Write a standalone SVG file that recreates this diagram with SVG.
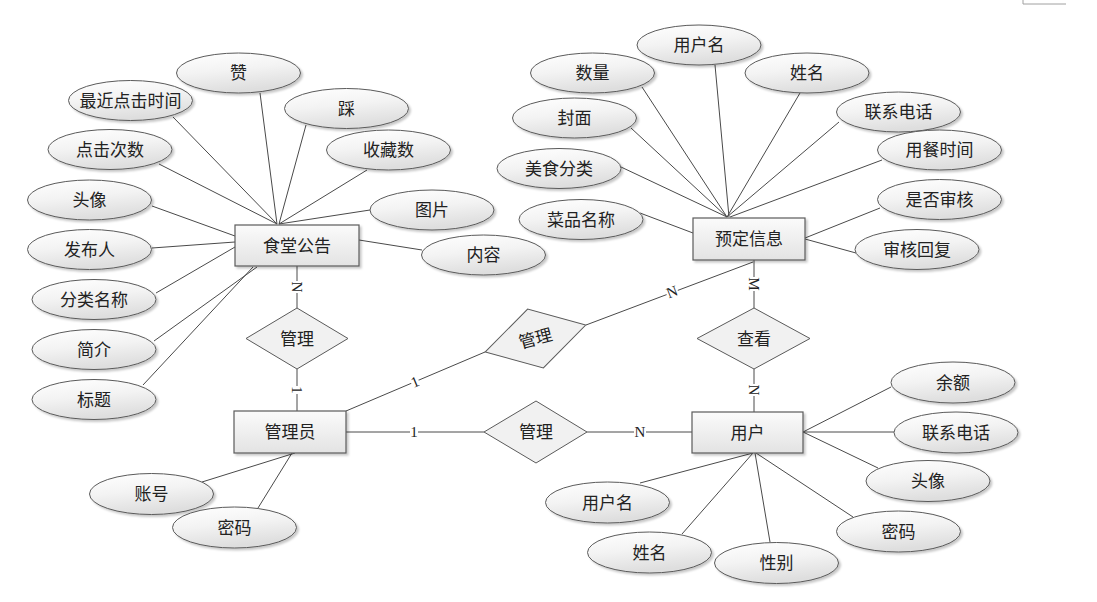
<svg xmlns="http://www.w3.org/2000/svg" width="1097" height="602" viewBox="0 0 1097 602">
<defs>
<linearGradient id="gE" x1="0" y1="0" x2="0.3" y2="1">
<stop offset="0" stop-color="#ffffff"/>
<stop offset="0.5" stop-color="#f3f3f3"/>
<stop offset="1" stop-color="#dedede"/>
</linearGradient>
<linearGradient id="gR" x1="0" y1="0" x2="0" y2="1">
<stop offset="0" stop-color="#fbfbfb"/>
<stop offset="1" stop-color="#e3e3e3"/>
</linearGradient>
<filter id="sh" x="-10%" y="-20%" width="130%" height="150%">
<feDropShadow dx="2" dy="2" stdDeviation="1.2" flood-color="#000" flood-opacity="0.22"/>
</filter>
<style>
.e{fill:url(#gE);stroke:#5a5a5a;stroke-width:1;filter:url(#sh)}
.r{fill:url(#gR);stroke:#5a5a5a;stroke-width:1.2;filter:url(#sh)}
.d{fill:#f1f1f1;stroke:#5a5a5a;stroke-width:1}
.t{font-family:"Noto Sans CJK SC","Noto Sans",sans-serif;font-size:17px;fill:#222;text-anchor:middle;dominant-baseline:central;transform:translateY(-1.5px)}
.l{font-family:"Liberation Serif",serif;font-size:15px;fill:#222;text-anchor:middle;dominant-baseline:central}
.c line{stroke:#4a4a4a;stroke-width:1}
.bg{fill:#fff}
</style>
</defs>
<rect width="1097" height="602" fill="#fff"/>
<path d="M1023,0 V4 H1066" fill="none" stroke="#a0a0a0" stroke-width="1"/>

<g id="connectors" class="c">
<line x1="173" y1="117" x2="277" y2="224"/>
<line x1="260" y1="93" x2="277" y2="224"/>
<line x1="306" y1="125" x2="279" y2="224"/>
<line x1="367" y1="170" x2="279" y2="224"/>
<line x1="159" y1="164" x2="277" y2="224"/>
<line x1="370" y1="210" x2="279" y2="224"/>
<line x1="152" y1="206" x2="235" y2="236"/>
<line x1="152" y1="248" x2="235" y2="242"/>
<line x1="156" y1="293" x2="235" y2="247"/>
<line x1="154" y1="341" x2="257" y2="267"/>
<line x1="143" y1="385" x2="253" y2="267"/>
<line x1="359" y1="240" x2="422" y2="250"/>
<line x1="297" y1="266" x2="297" y2="308"/>
<line x1="297" y1="369" x2="297" y2="411"/>
<line x1="202" y1="482" x2="295" y2="453"/>
<line x1="258" y1="508" x2="292" y2="453"/>
<line x1="346" y1="411" x2="485" y2="352"/>
<line x1="346" y1="432" x2="484" y2="432"/>
<line x1="586" y1="325" x2="753" y2="262"/>
<line x1="587" y1="432" x2="692" y2="432"/>
<line x1="754" y1="369" x2="754" y2="412"/>
<line x1="754" y1="260" x2="754" y2="308"/>
<line x1="803" y1="432" x2="891" y2="387"/>
<line x1="803" y1="432" x2="894" y2="432"/>
<line x1="803" y1="432" x2="878" y2="468"/>
<line x1="753" y1="453" x2="640" y2="483"/>
<line x1="753" y1="453" x2="682" y2="534"/>
<line x1="755" y1="453" x2="770" y2="542"/>
<line x1="756" y1="453" x2="853" y2="517"/>
<line x1="642" y1="87" x2="727" y2="217"/>
<line x1="715" y1="65" x2="729" y2="217"/>
<line x1="800" y1="93" x2="727" y2="217"/>
<line x1="631" y1="128" x2="727" y2="217"/>
<line x1="621" y1="167" x2="727" y2="217"/>
<line x1="640" y1="213" x2="693" y2="233"/>
<line x1="839" y1="122" x2="727" y2="217"/>
<line x1="882" y1="160" x2="730" y2="217"/>
<line x1="880" y1="208" x2="805" y2="238"/>
<line x1="805" y1="239" x2="856" y2="253"/>
<g id="labels">
<g transform="translate(297,287) rotate(90)"><rect class="bg" x="-6" y="-7" width="12" height="14"/><text class="l" x="0" y="0">N</text></g>
<g transform="translate(297,390) rotate(90)"><rect class="bg" x="-4" y="-7" width="8" height="14"/><text class="l" x="0" y="0">1</text></g>
<g transform="translate(415,382) rotate(-23)"><rect class="bg" x="-4" y="-7" width="8" height="14"/><text class="l" x="0" y="0">1</text></g>
<g transform="translate(414,432)"><rect class="bg" x="-4" y="-7" width="8" height="14"/><text class="l" x="0" y="0">1</text></g>
<g transform="translate(672,292) rotate(-21)"><rect class="bg" x="-6" y="-7" width="12" height="14"/><text class="l" x="0" y="0">N</text></g>
<g transform="translate(640,432)"><rect class="bg" x="-6" y="-7" width="12" height="14"/><text class="l" x="0" y="0">N</text></g>
<g transform="translate(754,284) rotate(90)"><rect class="bg" x="-7" y="-7" width="14" height="14"/><text class="l" x="0" y="0">M</text></g>
<g transform="translate(754,390) rotate(90)"><rect class="bg" x="-6" y="-7" width="12" height="14"/><text class="l" x="0" y="0">N</text></g>
</g>
</g>

<g id="canteen-notice"><rect class="r" x="235" y="225" width="124" height="41"/><text class="t" x="297" y="245.5">食堂公告</text></g>
<g id="admin"><rect class="r" x="234" y="411" width="112" height="42"/><text class="t" x="290" y="432">管理员</text></g>
<g id="user"><rect class="r" x="692" y="412" width="111" height="41"/><text class="t" x="747.5" y="432.5">用户</text></g>
<g id="booking"><rect class="r" x="693" y="218" width="112" height="42"/><text class="t" x="749" y="239">预定信息</text></g>

<g id="rel-manage-notice"><polygon class="d" points="246,338.5 297,308 348,338.5 297,369"/><text class="t" x="297" y="338.5">管理</text></g>
<g id="rel-manage-booking" transform="translate(535.5,338.5) rotate(-15)"><polygon class="d" points="-52,0 0,-30.5 52,0 0,30.5"/><text class="t" x="0" y="0">管理</text></g>
<g id="rel-manage-user"><polygon class="d" points="484,432 536,401 587,432 536,463"/><text class="t" x="536" y="432">管理</text></g>
<g id="rel-view"><polygon class="d" points="697,338.5 754,308 810,338.5 754,369"/><text class="t" x="754" y="338.5">查看</text></g>

<g id="a-zan"><ellipse class="e" cx="238.5" cy="73" rx="62" ry="20"/><text class="t" x="238.5" y="73">赞</text></g>
<g id="a-recent"><ellipse class="e" cx="130.5" cy="100.5" rx="62" ry="20"/><text class="t" x="130.5" y="100.5">最近点击时间</text></g>
<g id="a-cai"><ellipse class="e" cx="346.5" cy="108.5" rx="62" ry="20"/><text class="t" x="346.5" y="108.5">踩</text></g>
<g id="a-fav"><ellipse class="e" cx="388.5" cy="150" rx="62" ry="20"/><text class="t" x="388.5" y="150">收藏数</text></g>
<g id="a-clicks"><ellipse class="e" cx="110" cy="149.5" rx="62" ry="20"/><text class="t" x="110" y="149.5">点击次数</text></g>
<g id="a-avatar1"><ellipse class="e" cx="89.5" cy="200" rx="62" ry="20"/><text class="t" x="89.5" y="200">头像</text></g>
<g id="a-pic"><ellipse class="e" cx="432" cy="210" rx="62" ry="20"/><text class="t" x="432" y="210">图片</text></g>
<g id="a-publisher"><ellipse class="e" cx="89.5" cy="249.5" rx="62" ry="20"/><text class="t" x="89.5" y="249.5">发布人</text></g>
<g id="a-content"><ellipse class="e" cx="483.5" cy="255" rx="62" ry="20"/><text class="t" x="483.5" y="255">内容</text></g>
<g id="a-category"><ellipse class="e" cx="94" cy="299.5" rx="62" ry="20"/><text class="t" x="94" y="299.5">分类名称</text></g>
<g id="a-intro"><ellipse class="e" cx="94" cy="349.5" rx="62" ry="20"/><text class="t" x="94" y="349.5">简介</text></g>
<g id="a-title"><ellipse class="e" cx="94" cy="399.5" rx="62" ry="20"/><text class="t" x="94" y="399.5">标题</text></g>

<g id="a-account"><ellipse class="e" cx="151.5" cy="494" rx="62" ry="20.5"/><text class="t" x="151.5" y="494">账号</text></g>
<g id="a-pwd1"><ellipse class="e" cx="234.5" cy="527.5" rx="62" ry="20.5"/><text class="t" x="234.5" y="527.5">密码</text></g>

<g id="a-username2"><ellipse class="e" cx="699" cy="45" rx="62" ry="20"/><text class="t" x="699" y="45">用户名</text></g>
<g id="a-qty"><ellipse class="e" cx="592.5" cy="73" rx="62" ry="20"/><text class="t" x="592.5" y="73">数量</text></g>
<g id="a-name2"><ellipse class="e" cx="807" cy="73" rx="62" ry="20"/><text class="t" x="807" y="73">姓名</text></g>
<g id="a-cover"><ellipse class="e" cx="574.5" cy="118" rx="62" ry="20"/><text class="t" x="574.5" y="118">封面</text></g>
<g id="a-foodcat"><ellipse class="e" cx="559" cy="168.5" rx="62" ry="20"/><text class="t" x="559" y="168.5">美食分类</text></g>
<g id="a-dish"><ellipse class="e" cx="581" cy="219.5" rx="62" ry="20"/><text class="t" x="581" y="219.5">菜品名称</text></g>
<g id="a-phone2"><ellipse class="e" cx="898.5" cy="112" rx="62" ry="20"/><text class="t" x="898.5" y="112">联系电话</text></g>
<g id="a-mealtime"><ellipse class="e" cx="939.5" cy="150" rx="62" ry="20"/><text class="t" x="939.5" y="150">用餐时间</text></g>
<g id="a-audited"><ellipse class="e" cx="939.5" cy="199.5" rx="62" ry="20"/><text class="t" x="939.5" y="199.5">是否审核</text></g>
<g id="a-reply"><ellipse class="e" cx="917" cy="249.5" rx="62" ry="20"/><text class="t" x="917" y="249.5">审核回复</text></g>

<g id="a-balance"><ellipse class="e" cx="953" cy="382.5" rx="62" ry="20.5"/><text class="t" x="953" y="382.5">余额</text></g>
<g id="a-phone3"><ellipse class="e" cx="956" cy="432.5" rx="62" ry="20.5"/><text class="t" x="956" y="432.5">联系电话</text></g>
<g id="a-avatar3"><ellipse class="e" cx="928" cy="481" rx="62" ry="20.5"/><text class="t" x="928" y="481">头像</text></g>
<g id="a-pwd3"><ellipse class="e" cx="898.5" cy="531.5" rx="62" ry="20.5"/><text class="t" x="898.5" y="531.5">密码</text></g>
<g id="a-gender"><ellipse class="e" cx="776.5" cy="563" rx="62" ry="20.5"/><text class="t" x="776.5" y="563">性别</text></g>
<g id="a-name3"><ellipse class="e" cx="649.5" cy="552.5" rx="62" ry="20.5"/><text class="t" x="649.5" y="552.5">姓名</text></g>
<g id="a-username3"><ellipse class="e" cx="607.5" cy="502.5" rx="62" ry="20.5"/><text class="t" x="607.5" y="502.5">用户名</text></g>
</svg>
